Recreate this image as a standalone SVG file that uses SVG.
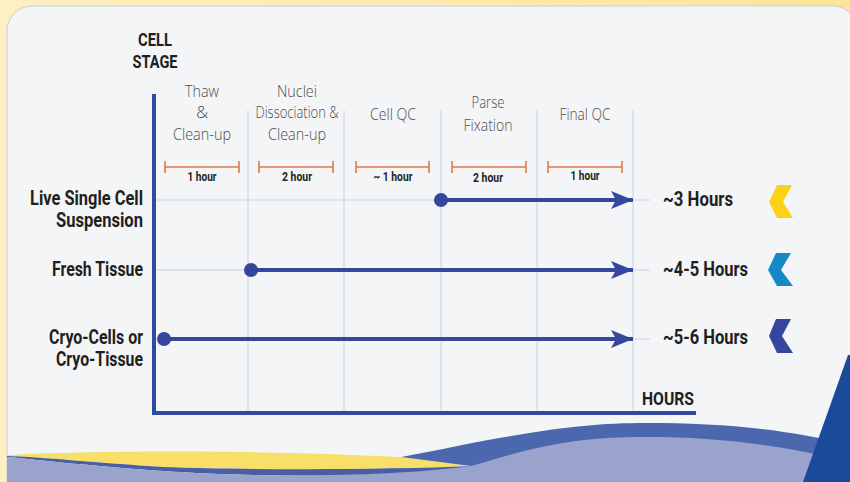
<svg xmlns="http://www.w3.org/2000/svg" width="850" height="482" viewBox="0 0 850 482">
<defs>
<linearGradient id="bg" x1="0" y1="0" x2="1" y2="0">
<stop offset="0" stop-color="#fef0c2"/>
<stop offset="1" stop-color="#fde49a"/>
</linearGradient>
<marker id="ah" viewBox="0 0 22 18" refX="22" refY="9" markerWidth="22" markerHeight="18" markerUnits="userSpaceOnUse" orient="auto">
<path d="M0,0 L22,9 L0,18 L5,9 Z" fill="#34479d"/>
</marker>
<style>
.hdr{font-family:"Open Sans","Liberation Sans",sans-serif;font-weight:300;font-size:17px;fill:#4d4d4d;text-anchor:middle}
.dur{font-family:"Roboto","Liberation Sans",sans-serif;font-weight:700;font-size:12.5px;fill:#222222;text-anchor:middle}
.lbl{font-family:"Roboto","Liberation Sans",sans-serif;font-weight:700;font-size:20.5px;fill:#1f1f1f;text-anchor:end}
.res{font-family:"Roboto","Liberation Sans",sans-serif;font-weight:700;font-size:20px;fill:#1f1f1f}
.ax{font-family:"Roboto","Liberation Sans",sans-serif;font-weight:700;font-size:19px;fill:#1f1f1f}
.grid{stroke:#d9dcee;stroke-width:1.5;fill:none}
.br{stroke:#e07b45;stroke-width:1.6;fill:none}
.flow{stroke:#34479d;stroke-width:4;fill:none}
.dot{fill:#34479d}
</style>
</defs>
<rect x="0" y="0" width="850" height="482" fill="url(#bg)"/>
<rect x="7" y="6" width="851" height="505" rx="25" ry="25" fill="#f4f5f7" stroke="#c9cde3" stroke-width="1"/>
<g id="waves">
<path d="M7,455 C80,451 250,449 401,457 L471,466 C380,470 250,470 163,467 C100,463 40,457 7,456 Z" fill="#f8df6a"/>
<path d="M7,456 C40,457 100,463 163,467 C250,470 380,470 471,466 L471,470 C380,478 250,477 163,471 C100,467 40,460 7,457 Z" fill="#4a5fa3"/>
<path d="M401,457 C430,452 455,446 488,440 C560,427 600,423 645,423 C720,423 780,428 850,445 L850,482 L400,482 L471,466 Z" fill="#4b67ae"/>
<path d="M7,457 C40,460 100,467 163,471 C250,477 380,478 471,466 C500,458 520,451 542,447 C580,439 610,437 645,437 C720,437 780,445 850,462 L850,482 L7,482 Z" fill="#9aa3cc"/>
<path d="M848,355 L850,355 L850,482 L803,482 Z" fill="#1a4a9a"/>
</g>
<g id="grid">
<line class="grid" x1="248" y1="110" x2="248" y2="411"/>
<line class="grid" x1="344" y1="110" x2="344" y2="411"/>
<line class="grid" x1="441" y1="110" x2="441" y2="411"/>
<line class="grid" x1="537" y1="110" x2="537" y2="411"/>
<line class="grid" x1="633" y1="110" x2="633" y2="411"/>
<line class="grid" x1="156" y1="200" x2="650" y2="200"/>
<line class="grid" x1="156" y1="270" x2="650" y2="270"/>
<line class="grid" x1="156" y1="339" x2="650" y2="339"/>
</g>
<g id="axes">
<path d="M154,94 L154,413 L696,413" stroke="#2f4a9e" stroke-width="4" fill="none"/>
<text class="ax" x="155" y="46" text-anchor="middle" textLength="34" lengthAdjust="spacingAndGlyphs">CELL</text>
<text class="ax" x="155" y="68" text-anchor="middle" textLength="45" lengthAdjust="spacingAndGlyphs">STAGE</text>
<text class="ax" x="642" y="405" textLength="52" lengthAdjust="spacingAndGlyphs">HOURS</text>
</g>
<g id="step-thaw">
<text class="hdr" x="202" y="97" textLength="34" lengthAdjust="spacingAndGlyphs">Thaw</text>
<text class="hdr" x="202" y="118">&amp;</text>
<text class="hdr" x="202" y="140" textLength="58" lengthAdjust="spacingAndGlyphs">Clean-up</text>
<path class="br" d="M165,167 H239 M165,161 V173 M239,161 V173"/>
<text class="dur" x="202" y="181" textLength="29" lengthAdjust="spacingAndGlyphs">1 hour</text>
</g>
<g id="step-nuclei">
<text class="hdr" x="297" y="97" textLength="40" lengthAdjust="spacingAndGlyphs">Nuclei</text>
<text class="hdr" x="297" y="118" textLength="83" lengthAdjust="spacingAndGlyphs">Dissociation &amp;</text>
<text class="hdr" x="297" y="140" textLength="58" lengthAdjust="spacingAndGlyphs">Clean-up</text>
<path class="br" d="M259,167 H333 M259,161 V173 M333,161 V173"/>
<text class="dur" x="297" y="181" textLength="30" lengthAdjust="spacingAndGlyphs">2 hour</text>
</g>
<g id="step-cellqc">
<text class="hdr" x="393" y="120" textLength="46" lengthAdjust="spacingAndGlyphs">Cell QC</text>
<path class="br" d="M356,167 H429 M356,161 V173 M429,161 V173"/>
<text class="dur" x="393" y="181" textLength="39" lengthAdjust="spacingAndGlyphs">~ 1 hour</text>
</g>
<g id="step-parse">
<text class="hdr" x="488" y="108" textLength="33" lengthAdjust="spacingAndGlyphs">Parse</text>
<text class="hdr" x="488" y="131" textLength="49" lengthAdjust="spacingAndGlyphs">Fixation</text>
<path class="br" d="M452,167 H526 M452,161 V173 M526,161 V173"/>
<text class="dur" x="488" y="182" textLength="30" lengthAdjust="spacingAndGlyphs">2 hour</text>
</g>
<g id="step-finalqc">
<text class="hdr" x="585" y="120" textLength="51" lengthAdjust="spacingAndGlyphs">Final QC</text>
<path class="br" d="M548,167 H622 M548,161 V173 M622,161 V173"/>
<text class="dur" x="585" y="180" textLength="29" lengthAdjust="spacingAndGlyphs">1 hour</text>
</g>
<g id="connectors">
<line class="flow" x1="441" y1="200" x2="633" y2="200" marker-end="url(#ah)"/>
<line class="flow" x1="251" y1="270" x2="633" y2="270" marker-end="url(#ah)"/>
<line class="flow" x1="164" y1="339" x2="633" y2="339" marker-end="url(#ah)"/>
</g>
<g id="row-live">
<text class="lbl" x="143" y="205" textLength="113" lengthAdjust="spacingAndGlyphs">Live Single Cell</text>
<text class="lbl" x="143" y="227" textLength="87" lengthAdjust="spacingAndGlyphs">Suspension</text>
<circle class="dot" cx="441" cy="200" r="7"/>
<text class="res" x="663" y="206" textLength="70" lengthAdjust="spacingAndGlyphs">~3 Hours</text>
<polygon points="777,185 792,185 783,202 793,218 777,218 769,202" fill="#fcd116"/>
</g>
<g id="row-fresh">
<text class="lbl" x="143" y="276" textLength="91" lengthAdjust="spacingAndGlyphs">Fresh Tissue</text>
<circle class="dot" cx="251" cy="270" r="7"/>
<text class="res" x="663" y="276" textLength="85" lengthAdjust="spacingAndGlyphs">~4-5 Hours</text>
<polygon points="776,253 791,253 781,270 793,286 777,286 768,270" fill="#1788c7"/>
</g>
<g id="row-cryo">
<text class="lbl" x="143" y="344" textLength="94" lengthAdjust="spacingAndGlyphs">Cryo-Cells or</text>
<text class="lbl" x="143" y="366" textLength="87" lengthAdjust="spacingAndGlyphs">Cryo-Tissue</text>
<circle class="dot" cx="164" cy="339" r="7"/>
<text class="res" x="663" y="344" textLength="85" lengthAdjust="spacingAndGlyphs">~5-6 Hours</text>
<polygon points="776,319 791,319 782,336 793,353 777,353 769,336" fill="#35479c"/>
</g>
</svg>
